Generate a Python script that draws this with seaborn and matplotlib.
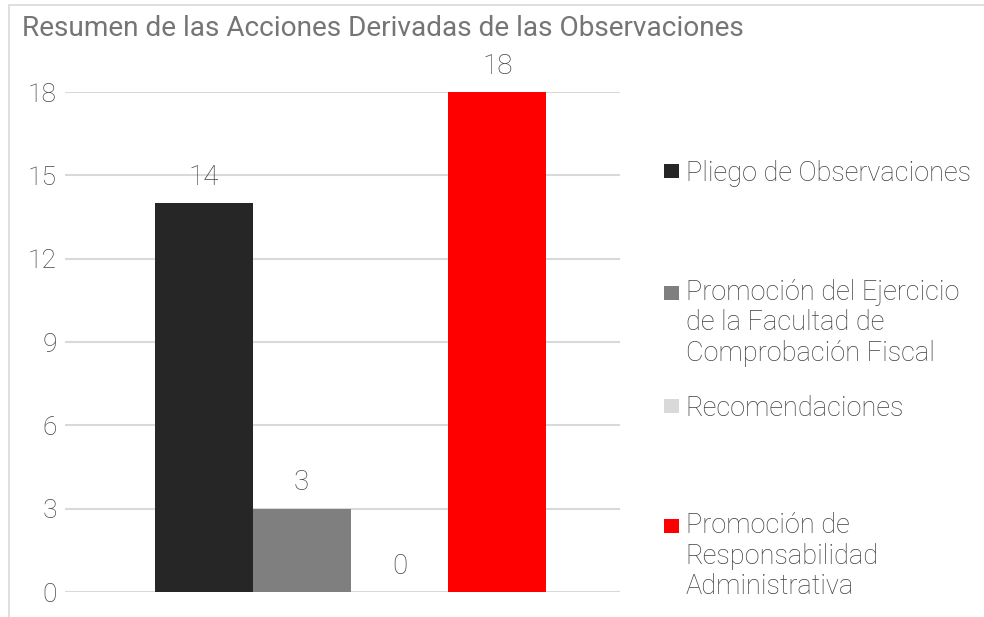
import pandas as pd
import matplotlib.pyplot as plt
import seaborn as sns
from matplotlib.lines import Line2D
from matplotlib.patches import Rectangle
from matplotlib.legend_handler import HandlerPatch

TITLE = "Resumen de las Acciones Derivadas de las Observaciones"
SERIES = [
    "Pliego de Observaciones",
    "Promoción del Ejercicio\nde la Facultad de\nComprobación Fiscal",
    "Recomendaciones",
    "Promoción de\nResponsabilidad\nAdministrativa",
]
VALUES = [14, 3, 0, 18]
COLORS = ["#262626", "#7f7f7f", "#d9d9d9", "#ff0000"]
Y_TICKS = [0, 3, 6, 9, 12, 15, 18]

TEXT = "#454545"
GRID = "#d9d9d9"
LINE_PT = 22.3  # legend line height in points

sns.set_style("white")
plt.rcParams["font.family"] = ["Roboto", "DejaVu Sans"]

df = pd.DataFrame({"grupo": ["g"] * len(SERIES), "serie": SERIES, "valor": VALUES})

W, H = 984, 617
fig = plt.figure(figsize=(W / 100, H / 100), dpi=100)
ax = fig.add_axes([65 / W, 1 - 592 / H, (620 - 65) / W, (592 - 92) / H])

sns.barplot(data=df, x="grupo", y="valor", hue="serie", hue_order=SERIES,
            palette=COLORS, saturation=1, width=0.8, linewidth=0,
            legend=False, ax=ax, errorbar=None, zorder=3)

ax.set_xlim(-0.584, 0.551)
ax.set_ylim(0, 18)
ax.set_yticks(Y_TICKS)
ax.set_xticks([])
ax.set_xlabel("")
ax.set_ylabel("")
ax.grid(axis="y", color=GRID, linewidth=1.5, zorder=0)
for s in ax.spines.values():
    s.set_visible(False)
ax.tick_params(axis="y", length=0, pad=6, labelsize=19, labelcolor=TEXT)
for lab in ax.get_yticklabels():
    lab.set_fontweight("light")

for cont in ax.containers:
    ax.bar_label(cont, fmt="%d", padding=9, fontsize=20, color=TEXT,
                 fontweight="light", clip_on=False)

# title
fig.text(22 / W, 1 - 28 / H, TITLE, ha="left", va="center", fontsize=20.2,
         color="#757575")


def square_handler(n_lines):
    # keep the square beside the first line of a wrapped label
    shift = (n_lines - 1) / 2 * LINE_PT

    def make(legend, orig_handle, xdescent, ydescent, width, height, fontsize):
        y0 = -ydescent + (height - width) / 2 + shift
        return Rectangle((-xdescent, y0), width, width)
    return HandlerPatch(patch_func=make)


# legend, one block per series, spaced like the original
centers = [173, 323, 408, 556]
for cont, label, cy in zip(ax.containers, SERIES, centers):
    handle = cont.patches[0]
    leg = fig.legend([handle], [label], loc="center left",
                     bbox_to_anchor=(664 / W, 1 - cy / H), frameon=False,
                     handlelength=0.55, handleheight=0.7,
                     handletextpad=0.25, borderpad=0, borderaxespad=0,
                     prop={"weight": "light", "size": 19.5},
                     handler_map={handle: square_handler(label.count("\n") + 1)})
    for t in leg.get_texts():
        t.set_color("#404040")
        t.set_linespacing(1.15)

# chart border
fig.add_artist(Line2D([9 / W, 9 / W], [0, 1 - 5 / H], color=GRID, lw=1.2))
fig.add_artist(Line2D([9 / W, 1], [1 - 5 / H, 1 - 5 / H], color=GRID, lw=1.2))

fig.savefig("out.png", dpi=100, facecolor="white")
